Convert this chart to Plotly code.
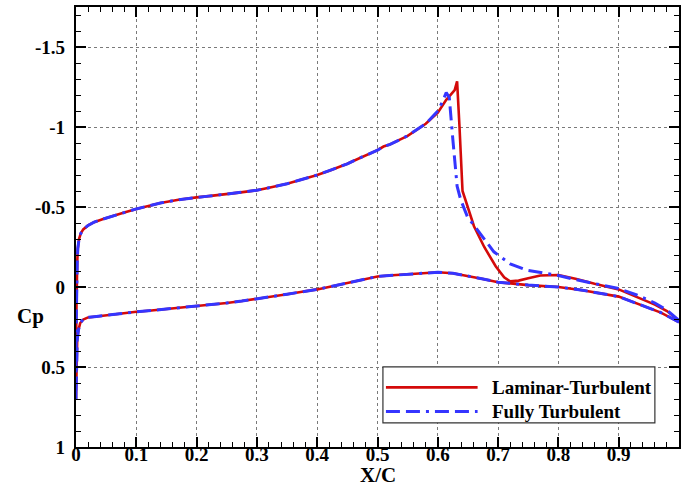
import plotly.graph_objects as go

# ---------------- data ----------------
# upper surface, Laminar-Turbulent (LE -> TE)
x_up_lt = [0.0, 0.0005, 0.001, 0.002, 0.003, 0.005, 0.008, 0.012, 0.02, 0.03, 0.045, 0.06, 0.08, 0.1, 0.12, 0.14,
           0.17, 0.2, 0.22, 0.25, 0.27, 0.3, 0.32, 0.35, 0.37, 0.4, 0.42, 0.45, 0.47, 0.5, 0.51, 0.52, 0.55,
           0.58, 0.6, 0.614, 0.622, 0.628, 0.632, 0.636, 0.641, 0.65, 0.66, 0.677, 0.696, 0.71, 0.72, 0.734,
           0.75, 0.77, 0.8, 0.83, 0.86, 0.9, 0.93, 0.96, 0.98, 1.0]
cp_up_lt = [0.7, 0.2, 0.0, -0.15, -0.24, -0.3, -0.335, -0.36, -0.385, -0.405, -0.425, -0.443, -0.465, -0.488, -0.508, -0.525,
            -0.545, -0.56, -0.568, -0.58, -0.59, -0.605, -0.62, -0.645, -0.667, -0.70, -0.727, -0.77, -0.805, -0.855, -0.878, -0.89, -0.945,
            -1.02, -1.09, -1.17, -1.205, -1.23, -1.285, -1.0, -0.6, -0.49, -0.38, -0.25, -0.13, -0.06, -0.035, -0.04,
            -0.055, -0.072, -0.075, -0.05, -0.02, 0.015, 0.06, 0.11, 0.15, 0.21]

# upper surface, Fully Turbulent (LE -> TE)
x_up_ft = [0.0, 0.0005, 0.001, 0.002, 0.003, 0.005, 0.008, 0.012, 0.02, 0.03, 0.045, 0.06, 0.08, 0.1, 0.12, 0.14,
           0.17, 0.2, 0.22, 0.25, 0.27, 0.3, 0.32, 0.35, 0.37, 0.4, 0.42, 0.45, 0.47, 0.5, 0.51, 0.52, 0.55,
           0.58, 0.6, 0.608, 0.614, 0.619, 0.625, 0.632, 0.638, 0.649, 0.666, 0.693, 0.72, 0.748, 0.78, 0.8,
           0.83, 0.86, 0.9, 0.93, 0.96, 0.98, 1.0]
cp_up_ft = [0.7, 0.2, 0.0, -0.15, -0.24, -0.3, -0.335, -0.36, -0.385, -0.405, -0.425, -0.443, -0.465, -0.488, -0.508, -0.525,
            -0.545, -0.56, -0.568, -0.58, -0.59, -0.605, -0.62, -0.645, -0.667, -0.70, -0.727, -0.77, -0.805, -0.855, -0.878, -0.89, -0.945,
            -1.02, -1.10, -1.16, -1.215, -1.185, -0.92, -0.63, -0.545, -0.44, -0.355, -0.22, -0.145, -0.105, -0.085, -0.072,
            -0.045, -0.02, 0.01, 0.05, 0.1, 0.145, 0.21]

# lower surface (LE -> TE)
x_lo = [0.0, 0.0005, 0.001, 0.002, 0.004, 0.007, 0.012, 0.02, 0.034, 0.06, 0.1, 0.125, 0.15, 0.175, 0.2, 0.225,
        0.25, 0.275, 0.3, 0.325, 0.35, 0.375, 0.4, 0.425, 0.45, 0.475, 0.5, 0.525, 0.55, 0.575, 0.6, 0.625,
        0.65, 0.675, 0.7, 0.75, 0.8, 0.84, 0.9, 0.945, 0.97, 1.0]
cp_lo_lt = [0.7, 0.6, 0.45, 0.33, 0.27, 0.225, 0.203, 0.19, 0.184, 0.172, 0.155, 0.147, 0.138, 0.13, 0.122, 0.111,
            0.1, 0.088, 0.075, 0.06, 0.045, 0.03, 0.015, -0.005, -0.025, -0.047, -0.066, -0.073, -0.078, -0.086, -0.092, -0.086,
            -0.07, -0.05, -0.03, -0.012, 0.0, 0.02, 0.06, 0.125, 0.16, 0.22]
cp_lo_ft = [0.7, 0.6, 0.45, 0.33, 0.27, 0.225, 0.203, 0.19, 0.184, 0.172, 0.155, 0.147, 0.138, 0.13, 0.122, 0.111,
            0.1, 0.088, 0.075, 0.06, 0.045, 0.03, 0.015, -0.005, -0.025, -0.047, -0.066, -0.073, -0.078, -0.086, -0.092, -0.086,
            -0.07, -0.05, -0.03, -0.012, 0.0, 0.02, 0.06, 0.125, 0.16, 0.22]

series_names = ["Laminar-Turbulent", "Fully Turbulent"]
x_ticks = [0, 0.1, 0.2, 0.3, 0.4, 0.5, 0.6, 0.7, 0.8, 0.9, 1.0]
x_ticktext = ["0", "0.1", "0.2", "0.3", "0.4", "0.5", "0.6", "0.7", "0.8", "0.9", "1"]
y_ticks = [-1.5, -1, -0.5, 0, 0.5, 1]
y_ticktext = ["-1.5", "-1", "-0.5", "0", "0.5", "1"]

# ---------------- styling ----------------
RED = "#d40a0a"
BLUE = "#3535ff"
BLUE_DASH = "14px,6px,14px,6px,3px,6px"
FONT = "Liberation Serif"

fig = go.Figure()

x_lt = x_up_lt[::-1] + x_lo[1:]
y_lt = cp_up_lt[::-1] + cp_lo_lt[1:]
x_ft = x_up_ft[::-1] + x_lo[1:]
y_ft = cp_up_ft[::-1] + cp_lo_ft[1:]

fig.add_trace(go.Scatter(x=x_lt, y=y_lt, mode="lines", name=series_names[0],
                         line=dict(color=RED, width=2.6), showlegend=False))
fig.add_trace(go.Scatter(x=x_ft, y=y_ft, mode="lines", name=series_names[1],
                         line=dict(color=BLUE, width=3, dash=BLUE_DASH), showlegend=False))

axis_common = dict(
    showline=True, linecolor="black", linewidth=2.2, mirror="ticks",
    ticks="inside", ticklen=10, tickwidth=1.5, tickcolor="black",
    showgrid=True, gridcolor="#7a7a7a", gridwidth=1, griddash="dot",
    zeroline=False,
    tickfont=dict(family=FONT, size=19, color="black", weight="bold"),
)

fig.update_xaxes(range=[0, 1], tickvals=x_ticks, ticktext=x_ticktext,
                 minor=dict(ticks="inside", ticklen=5, dtick=0.02, tick0=0, tickcolor="black", tickwidth=1, showgrid=False),
                 ticklabelstandoff=-11, **axis_common)
fig.update_yaxes(range=[1, -1.75], tickvals=y_ticks, ticktext=y_ticktext,
                 minor=dict(ticks="inside", ticklen=5, dtick=0.1, tick0=0, tickcolor="black", tickwidth=1, showgrid=False),
                 ticklabelstandoff=5, **axis_common)

# legend drawn as box
lx0, lx1 = 0.509, 0.960
ly0, ly1 = 0.055, 0.182
fig.add_shape(type="rect", xref="paper", yref="paper", x0=lx0, x1=lx1, y0=ly0, y1=ly1,
              line=dict(color="#333333", width=1.2), fillcolor="white", layer="above")
row_y = [0.1356, 0.0807]
colors = [RED, BLUE]
dashes = ["solid", BLUE_DASH]
widths = [2.6, 3]
for i in range(2):
    fig.add_shape(type="line", xref="paper", yref="paper", x0=0.514, x1=0.666, y0=row_y[i], y1=row_y[i],
                  line=dict(color=colors[i], width=widths[i], dash=dashes[i]), layer="above")
    fig.add_annotation(xref="paper", yref="paper", x=0.687, y=row_y[i], xanchor="left", yanchor="middle",
                       text=series_names[i], showarrow=False,
                       font=dict(family=FONT, size=19, color="black", weight="bold"))

fig.add_annotation(xref="paper", yref="paper", x=-0.076, y=0.298, text="Cp", showarrow=False,
                   xanchor="center", yanchor="middle",
                   font=dict(family=FONT, size=21, color="black", weight="bold"))
fig.add_annotation(xref="paper", yref="paper", x=0.5, y=-0.063, text="X/C", showarrow=False,
                   xanchor="center", yanchor="middle",
                   font=dict(family=FONT, size=21, color="black", weight="bold"))

fig.update_layout(width=681, height=487, margin=dict(l=76, r=0, t=7, b=40),
                  paper_bgcolor="white", plot_bgcolor="white", showlegend=False)

fig.write_html("out.html")
